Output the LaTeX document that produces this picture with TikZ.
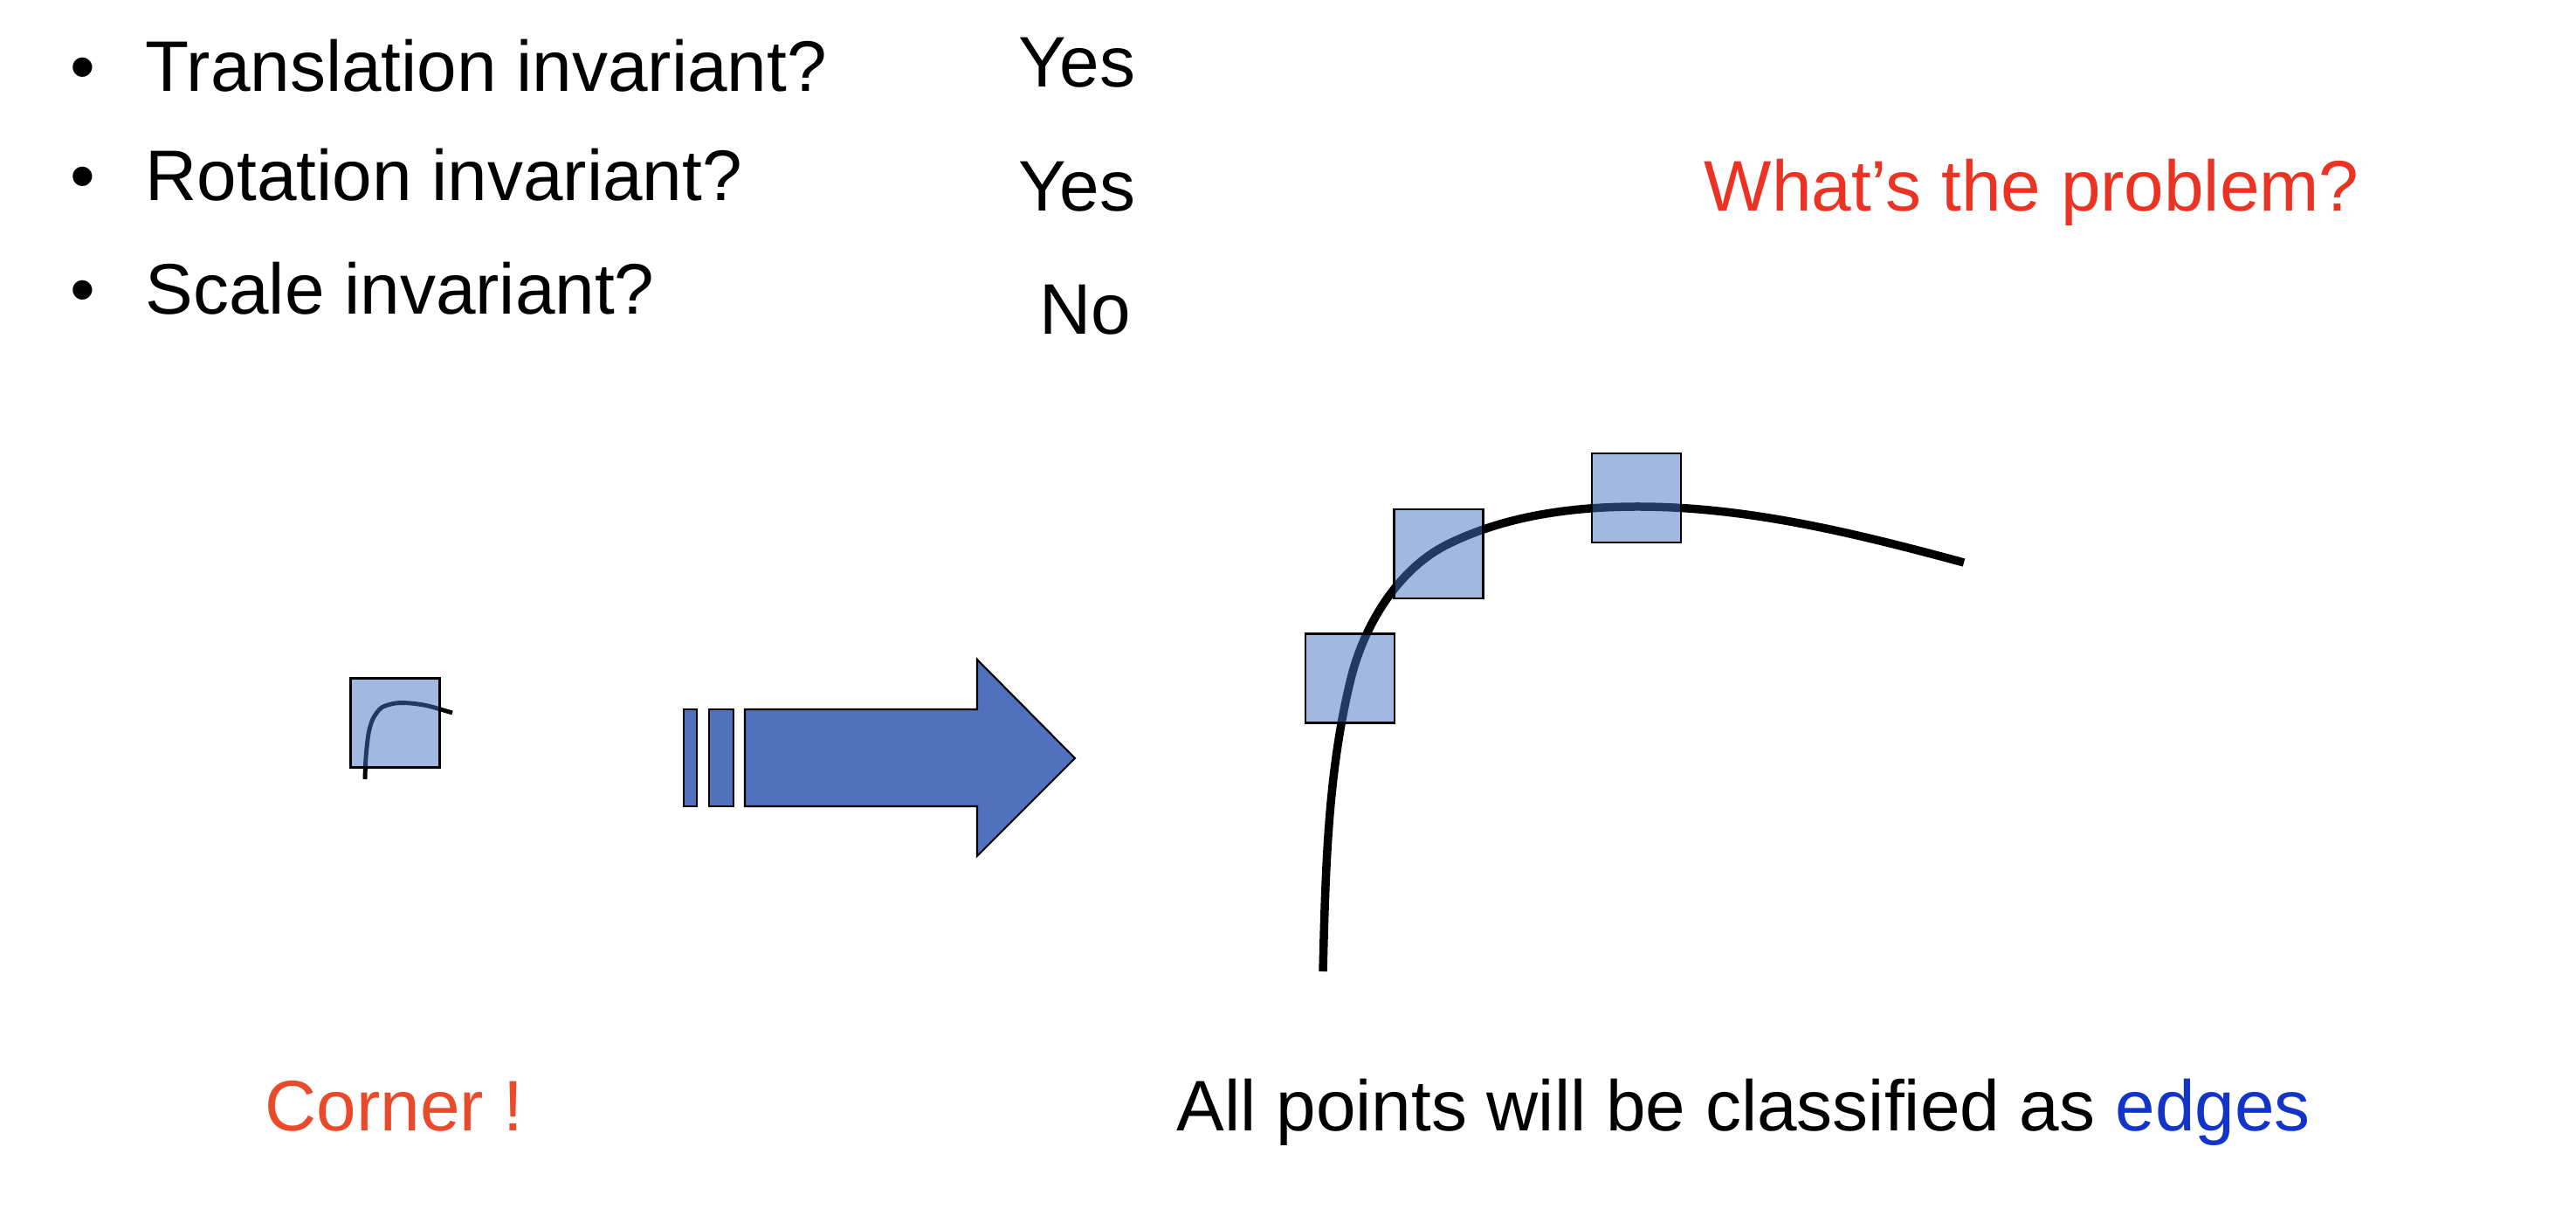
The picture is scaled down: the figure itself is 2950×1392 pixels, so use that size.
\documentclass[tikz,border=0pt]{standalone}
\usepackage{fontspec}
\setmainfont{Liberation Sans}
\definecolor{patchblue}{RGB}{68,114,196}
\definecolor{arrowblue}{RGB}{79,113,190}
\definecolor{qred}{RGB}{234,51,35}
\definecolor{cornerred}{RGB}{233,75,42}
\definecolor{edgeblue}{RGB}{19,52,201}
\begin{document}
\begin{tikzpicture}[x=0.01cm,y=-0.01cm,
    txt/.style={anchor=base west,inner sep=0pt,font=\fontsize{23.3}{28}\selectfont},
    patch/.style={draw=black,line width=0.7pt,fill=patchblue,fill opacity=0.5,draw opacity=1,
        inner sep=0pt,minimum size=1.02cm},
    bigarrow/.style={draw=black,line width=0.6pt,fill=arrowblue}]
\useasboundingbox (0,0) rectangle (2950,1392);
% questions and answers
\foreach \q/\a/\xa/\yq/\ya [count=\i] in {Translation invariant?/Yes/1166/105/100,
    Rotation invariant?/Yes/1166/230/242, Scale invariant?/No/1190/360/383}{
    \node[txt] (bul\i) at (80,\yq) {•};
    \node[txt] (q\i) at (166,\yq) {\q};
    \node[txt] (ans\i) at (\xa,\ya) {\a};
}
\node[txt,text=qred] (problem) at (1951,242) {What’s the problem?};
% small window on the corner
\draw[line width=1.4pt] plot[smooth] coordinates {(418,892) (419,867) (422,840)
    (427,823) (437,810) (453,805) (470,805) (490,808) (518,816)};
\node[patch] (smallwin) at (452.5,827.5) {};
% arrow
\draw[bigarrow] (783,812) rectangle (798,923);
\draw[bigarrow] (812,812) rectangle (840,923);
\draw[bigarrow] (853,812) -- (1119,812) -- (1119,755) -- (1231,868)
    -- (1119,980) -- (1119,923) -- (853,923) -- cycle;
% scaled-up corner
\draw[line width=2.7pt] (1515,1112) .. controls (1518,1000) and (1520,886) .. (1547,777)
    .. controls (1562,716) and (1601,651) .. (1658,623)
    .. controls (1725,590) and (1802,580) .. (1876,580)
    .. controls (2002,580) and (2127,611) .. (2249,644);
\foreach \x/\y [count=\i] in {1546/776.5, 1647.5/634, 1874/570}
    \node[patch] (win\i) at (\x,\y) {};
% captions
\node[txt,text=cornerred] (corner) at (303,1295) {Corner !};
\node[txt] (verdict) at (1347,1295) {All points will be classified as \textcolor{edgeblue}{edges}};
\end{tikzpicture}
\end{document}
